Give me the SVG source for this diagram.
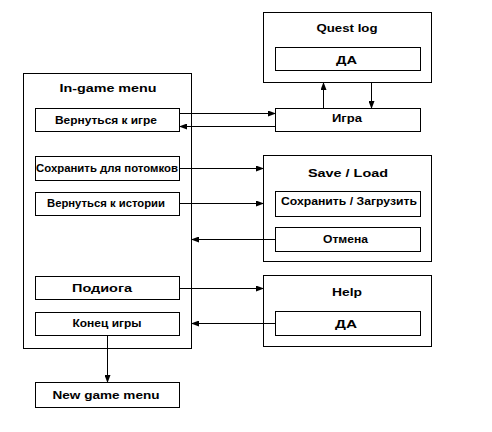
<svg xmlns="http://www.w3.org/2000/svg" width="492" height="432" viewBox="0 0 492 432">
<defs>
<style>
.box{fill:#fff;stroke:#000;stroke-width:1}
.t{font-family:"Liberation Sans",Arial,sans-serif;font-size:10.5px;font-weight:bold;text-anchor:middle;fill:#000}
.c{stroke:#000;stroke-width:1;fill:none}
</style>
<marker id="ah" markerWidth="8" markerHeight="6" refX="7" refY="3" orient="auto" markerUnits="userSpaceOnUse">
<path d="M0,0 L8,3 L0,6 Z" fill="#000"/>
</marker>
</defs>
<rect width="492" height="432" fill="#fff"/>
<g id="ingame">
<rect class="box" x="23.5" y="73.5" width="168" height="275"/>
<text class="t" x="108" y="92" textLength="97" lengthAdjust="spacingAndGlyphs">In-game menu</text>
</g>
<g id="back-to-game">
<rect class="box" x="35.5" y="108.5" width="144" height="23"/>
<text class="t" x="106" y="123.5" textLength="102" lengthAdjust="spacingAndGlyphs">Вернуться к игре</text>
</g>
<g id="save-descendants">
<rect class="box" x="35.5" y="156.5" width="144" height="24"/>
<text class="t" x="107" y="172" textLength="142" lengthAdjust="spacingAndGlyphs">Сохранить для потомков</text>
</g>
<g id="back-to-story">
<rect class="box" x="35.5" y="192.5" width="144" height="23"/>
<text class="t" x="106" y="207" textLength="118" lengthAdjust="spacingAndGlyphs">Вернуться к истории</text>
</g>
<g id="podioga">
<rect class="box" x="35.5" y="276.5" width="144" height="23"/>
<text class="t" x="102" y="291.5" textLength="60" lengthAdjust="spacingAndGlyphs">Подиога</text>
</g>
<g id="end-game">
<rect class="box" x="35.5" y="312.5" width="144" height="23"/>
<text class="t" x="107" y="326.5" textLength="69" lengthAdjust="spacingAndGlyphs">Конец игры</text>
</g>
<g id="new-game">
<rect class="box" x="35.5" y="382.5" width="144" height="25"/>
<text class="t" x="106" y="398.5" textLength="107" lengthAdjust="spacingAndGlyphs">New game menu</text>
</g>
<g id="questlog">
<rect class="box" x="263.5" y="12.5" width="168" height="70"/>
<text class="t" x="347" y="31.5" textLength="61" lengthAdjust="spacingAndGlyphs">Quest log</text>
</g>
<g id="quest-yes">
<rect class="box" x="275.5" y="47.5" width="145" height="23"/>
<text class="t" x="346.5" y="63.5" textLength="21" lengthAdjust="spacingAndGlyphs">ДА</text>
</g>
<g id="game">
<rect class="box" x="275.5" y="108.5" width="145" height="23"/>
<text class="t" x="347" y="122" textLength="30" lengthAdjust="spacingAndGlyphs">Игра</text>
</g>
<g id="saveload">
<rect class="box" x="263.5" y="155.5" width="168" height="106"/>
<text class="t" x="348" y="177" textLength="80" lengthAdjust="spacingAndGlyphs">Save / Load</text>
</g>
<g id="save-load-btn">
<rect class="box" x="275.5" y="191.5" width="145" height="25"/>
<text class="t" x="349" y="205" textLength="136" lengthAdjust="spacingAndGlyphs">Сохранить / Загрузить</text>
</g>
<g id="cancel">
<rect class="box" x="275.5" y="227.5" width="145" height="24"/>
<text class="t" x="345.5" y="242.5" textLength="45" lengthAdjust="spacingAndGlyphs">Отмена</text>
</g>
<g id="help">
<rect class="box" x="263.5" y="275.5" width="168" height="71"/>
<text class="t" x="347" y="296" textLength="30" lengthAdjust="spacingAndGlyphs">Help</text>
</g>
<g id="help-yes">
<rect class="box" x="275.5" y="311.5" width="145" height="24"/>
<text class="t" x="346" y="327.5" textLength="22" lengthAdjust="spacingAndGlyphs">ДА</text>
</g>
<g id="connectors">
<line class="c" x1="179.5" y1="113.5" x2="275" y2="113.5" marker-end="url(#ah)"/>
<line class="c" x1="275.5" y1="126.5" x2="180" y2="126.5" marker-end="url(#ah)"/>
<line class="c" x1="323.5" y1="108" x2="323.5" y2="83" marker-end="url(#ah)"/>
<line class="c" x1="371.5" y1="83" x2="371.5" y2="108" marker-end="url(#ah)"/>
<line class="c" x1="179.5" y1="168.5" x2="263" y2="168.5" marker-end="url(#ah)"/>
<line class="c" x1="179.5" y1="203.5" x2="263" y2="203.5" marker-end="url(#ah)"/>
<line class="c" x1="275.5" y1="239.5" x2="192" y2="239.5" marker-end="url(#ah)"/>
<line class="c" x1="179.5" y1="288.5" x2="263" y2="288.5" marker-end="url(#ah)"/>
<line class="c" x1="275.5" y1="323.5" x2="192" y2="323.5" marker-end="url(#ah)"/>
<line class="c" x1="107.5" y1="336" x2="107.5" y2="382" stroke="#666" marker-end="url(#ah)"/>
</g>
</svg>
